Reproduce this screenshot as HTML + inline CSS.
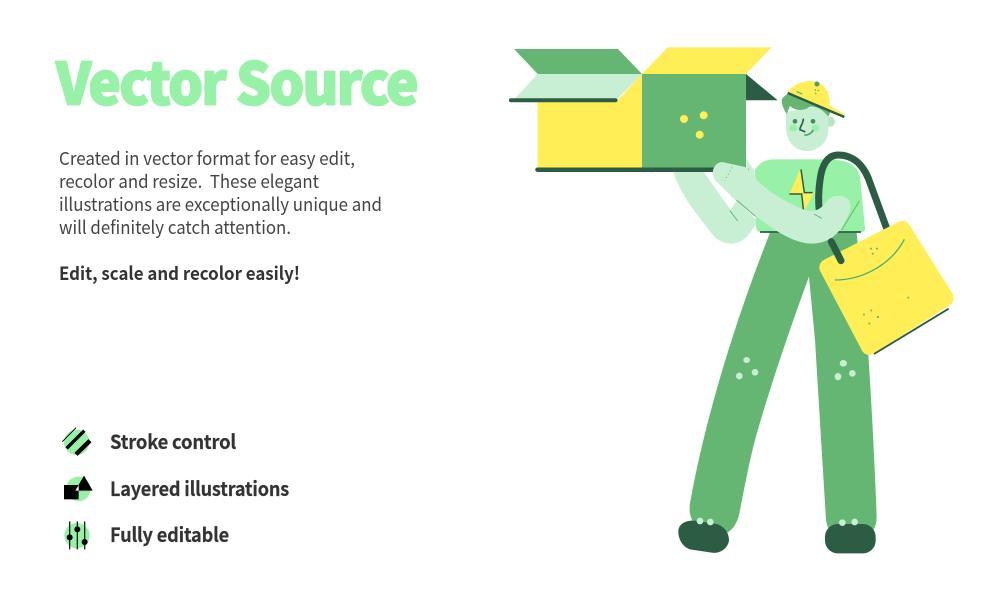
<!DOCTYPE html>
<html><head><meta charset="utf-8"><style>
html,body{margin:0;padding:0;background:#fff}
svg{display:block}
text{font-family:"Noto Sans CJK JP","Liberation Sans",sans-serif;white-space:pre}
</style></head><body>
<svg width="1005" height="601" viewBox="0 0 1005 601" xmlns="http://www.w3.org/2000/svg">
<rect width="1005" height="601" fill="#fff"/>
<text x="56" y="104.500" font-size="58" font-weight="900" letter-spacing="-1.800" fill="#97f2a8" stroke="#97f2a8" stroke-width="1.800" stroke-linejoin="round" textLength="361" lengthAdjust="spacingAndGlyphs">Vector Source</text>
<g font-size="18" fill="#444">
<text x="59" y="165" textLength="296" lengthAdjust="spacingAndGlyphs">Created in vector format for easy edit,</text>
<text x="59" y="188" textLength="260" lengthAdjust="spacingAndGlyphs">recolor and resize.  These elegant</text>
<text x="59" y="211" textLength="323" lengthAdjust="spacingAndGlyphs">illustrations are exceptionally unique and</text>
<text x="59" y="234" textLength="232" lengthAdjust="spacingAndGlyphs">will definitely catch attention.</text>
</g>
<text x="59" y="280" font-size="18" font-weight="700" fill="#333" textLength="241" lengthAdjust="spacingAndGlyphs">Edit, scale and recolor easily!</text>
<g font-size="19.500" font-weight="700" letter-spacing="-.2" fill="#333" stroke="#333" stroke-width=".2">
<text x="110" y="449" textLength="126" lengthAdjust="spacingAndGlyphs">Stroke control</text>
<text x="110" y="496" textLength="179" lengthAdjust="spacingAndGlyphs">Layered illustrations</text>
<text x="110" y="542" textLength="119" lengthAdjust="spacingAndGlyphs">Fully editable</text>
</g>

<!-- icons -->
<g transform="translate(50,420) scale(.3333)">
<circle cx="80" cy="67" r="38" fill="#97f2a8"/>
<path d="M37,65 L78,23" stroke="#000" stroke-width="3"/>
<path d="M50,85 L103,32" stroke="#000" stroke-width="10"/>
<path d="M78,103 L120,62" stroke="#000" stroke-width="13"/>
<circle cx="85" cy="207" r="37" fill="#97f2a8"/>
<rect x="42" y="195" width="44" height="43" fill="#000"/>
<path d="M102,167 L128,212 L76,212 Z" fill="#000"/>
<path d="M86,195 L86,212 L76,212 Z" fill="#fff"/>
<circle cx="81" cy="347" r="38" fill="#97f2a8"/>
<path d="M59,304 V388 M82,304 V388 M104,304 V388" stroke="#222" stroke-width="4"/>
<circle cx="59" cy="352" r="9" fill="#000"/>
<circle cx="82" cy="328" r="9" fill="#000"/>
<circle cx="104" cy="366" r="9" fill="#000"/>
</g>

<!-- box -->
<polygon points="514,49 618,49 642,74 537.7,74" fill="#65b672"/>
<polygon points="668,47.3 771.7,47.3 746,74 642,74" fill="#ffee55"/>
<polygon points="537.7,74 642,74 617,99.5 514,99.5" fill="#c8efd4"/>
<polygon points="537.7,101 617,101 642,74 642,168 537.7,168" fill="#ffee55"/>
<rect x="642" y="74" width="104" height="94" fill="#65b672"/>
<polygon points="746,74 777.7,100.3 746,100.3" fill="#2d5c45"/>
<rect x="509" y="98.3" width="108.500" height="4" rx="2" fill="#2d5c45"/>
<circle cx="684" cy="119" r="4" fill="#ffee55"/>
<circle cx="703.700" cy="115.300" r="4" fill="#ffee55"/>
<circle cx="699.700" cy="134.700" r="4" fill="#ffee55"/>

<!-- person -->
<g transform="translate(660,70) scale(.33333)">
<!-- back arm -->
<path d="M40,305 C60,370 100,420 155,490 C180,525 230,535 265,495 L295,455 L230,390 L212,420 L130,305 Z" fill="#c8efd4"/>
<path d="M258,265 L285,305 L262,320 Z" fill="#c8efd4"/>
<!-- pants -->
<path d="M330,488 L590,488 L600,600 L622,810 C635,1000 645,1200 650,1340 C650,1370 640,1385 620,1392 L520,1392 C505,1380 500,1365 498,1350 L465,810 L447,620 C395,760 310,1010 280,1130 C265,1190 252,1260 240,1320 C232,1370 210,1385 190,1395 L120,1380 C95,1360 85,1330 90,1300 C120,1130 170,950 215,810 C250,700 290,590 330,488 Z" fill="#65b672"/>
<g fill="#c8efd4">
<ellipse cx="260" cy="870" rx="10" ry="9"/><circle cx="238" cy="918" r="10"/><circle cx="285" cy="907" r="10"/>
<ellipse cx="550" cy="880" rx="11" ry="10"/><ellipse cx="534" cy="920" rx="10" ry="11"/><circle cx="577" cy="910" r="10"/>
</g>
<!-- shoes -->
<path d="M55,1385 C55,1360 80,1350 105,1352 L170,1362 C195,1370 207,1390 207,1410 C205,1435 180,1452 155,1448 L90,1438 C70,1432 55,1410 55,1385 Z" fill="#2d5c45"/>
<rect x="495" y="1362" width="152" height="88" rx="38" fill="#2d5c45"/>
<g fill="#c8efd4"><circle cx="120" cy="1353" r="10"/><circle cx="151" cy="1356" r="10"/><circle cx="547" cy="1358" r="10"/><circle cx="584" cy="1356" r="10"/></g>
<!-- shirt -->
<path d="M285,300 C300,275 320,268 345,268 L490,268 C560,268 590,280 600,320 L615,475 Q615,486 605,486 L300,486 Q290,486 288,470 Z" fill="#97f2a8"/>
<path d="M300,486 H603" stroke="#2d5c45" stroke-width="5"/>
<path d="M598,393 L545,480" stroke="#65b672" stroke-width="3" fill="none"/>
<!-- bolt -->
<polygon points="420,298 433,366 462,367 432,425 425,372 388,372" fill="#ffee55"/>
<path d="M388,372 H425 L431,425 M423,298 L433,368 H458" stroke="#2d5c45" stroke-width="4.500" fill="none"/>
<!-- head -->
<circle cx="510" cy="155" r="15" fill="#b5e5c4"/>
<path d="M378,125 L505,105 L505,180 C505,220 470,243 440,243 C405,243 378,215 378,170 Z" fill="#c8efd4"/>
<path d="M365,90 C370,80 378,74 390,68 L512,125 L505,140 C490,120 470,108 450,110 C430,125 405,122 390,108 L380,132 C370,115 365,105 365,90 Z" fill="#65b672"/>
<circle cx="405" cy="154" r="7" fill="#3f8f5c"/>
<circle cx="459" cy="154" r="7" fill="#3f8f5c"/>
<ellipse cx="400" cy="174" rx="12" ry="10" fill="#97f2a8"/>
<ellipse cx="466" cy="174" rx="12" ry="10" fill="#97f2a8"/>
<path d="M430,148 C428,165 418,172 420,179 L434,185" stroke="#2d5c45" stroke-width="5" fill="none" stroke-linecap="round"/>
<path d="M435,195 C445,196 453,190 459,182" stroke="#4f9f68" stroke-width="5" fill="none" stroke-linecap="round"/>
<!-- cap -->
<path d="M385,68 C395,45 425,33 455,33 C490,35 510,60 510,108 L555,133 L548,143 Z" fill="#ffee55"/>
<path d="M383,69 L553,141" stroke="#2d5c45" stroke-width="7"/>
<circle cx="471" cy="42" r="7.500" fill="#4f9f68"/>
<path d="M410,65 L427,72" stroke="#65b672" stroke-width="4"/>
<g fill="#65b672"><circle cx="466" cy="60" r="2.500"/><circle cx="475" cy="62" r="2.500"/><circle cx="467" cy="70" r="2.500"/></g>
<!-- strap -->
<path d="M680,475 L625,325 C600,265 560,255 535,255 C500,255 485,290 480,330 C474,375 475,400 478,425" stroke="#2d5c45" stroke-width="21" fill="none"/>
<!-- front arm -->
<path d="M160,300 C165,285 172,278 185,277 L250,290 C270,295 285,310 290,330 C320,360 370,395 430,418 C460,428 480,420 495,400 C510,378 540,370 560,385 C580,400 570,430 555,455 C530,505 490,525 440,520 C380,510 330,470 290,440 L225,390 L165,330 Q158,318 160,300 Z" fill="#c8efd4"/>
<g stroke="#65b672" stroke-width="3" fill="none">
<path d="M230,390 L287,440 M210,422 L233,453 M462,432 L485,445"/>
<path d="M265,296 L266,299"/>
</g>
<!-- bag -->
<polygon points="503,592 727,478 856,684 628,830" fill="#ffee55" stroke="#ffee55" stroke-width="50" stroke-linejoin="round"/>
<path d="M642,852 L866,716" stroke="#2d5c45" stroke-width="5.500"/>
<path d="M525,630 C600,630 690,590 733,508" stroke="#4faf70" stroke-width="4" fill="none"/>
<g fill="#65b672"><circle cx="633" cy="536" r="3"/><circle cx="651" cy="536" r="3"/><circle cx="638" cy="551" r="3"/><circle cx="745" cy="683" r="3"/><circle cx="612" cy="734" r="3"/><circle cx="634" cy="721" r="3"/><circle cx="654" cy="741" r="3.500"/><circle cx="628" cy="761" r="3"/></g>
<path d="M514,515 L543,572" stroke="#2d5c45" stroke-width="21" stroke-linecap="round"/>
</g>
<!-- box bottom bar & hand on top -->
<path d="M537.500,169.700 H713" stroke="#2d5c45" stroke-width="4.500" stroke-linecap="round"/>
<path d="M713,170 C715,165 717,163 722,162 L745,167 L745,180 L716,180 Q712,175 713,170 Z" fill="#c8efd4"/>
<g transform="translate(660,70) scale(.33333)" fill="none" stroke="#65b672" stroke-width="3">
<path d="M216,292 L194,332" stroke-dasharray="3 8"/>
</g>
</svg>
</body></html>
